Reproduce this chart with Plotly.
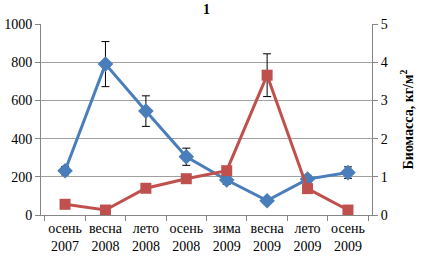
import plotly.graph_objects as go

categories = ["осень<br>2007", "весна<br>2008", "лето<br>2008", "осень<br>2008",
              "зима<br>2009", "весна<br>2009", "лето<br>2009", "осень<br>2009"]
blue_values = [232, 790, 544, 305, 183, 75, 188, 222]
blue_errors = [22, 118, 80, 45, 22, 0, 20, 30]
red_values = [0.28, 0.13, 0.70, 0.95, 1.16, 3.66, 0.69, 0.13]
red_errors = [0, 0, 0, 0, 0, 0.56, 0, 0]
left_ticks = [0, 200, 400, 600, 800, 1000]
right_ticks = [0, 1, 2, 3, 4, 5]

BLUE = "#4A7EBB"
RED = "#C0504D"
FONT = "Liberation Serif"

fig = go.Figure()
fig.add_trace(go.Scatter(
    x=categories, y=red_values, yaxis="y2", mode="lines+markers",
    line=dict(color=RED, width=3),
    marker=dict(symbol="square", size=11, color=RED),
    error_y=dict(type="data", array=red_errors, color="black", thickness=1, width=4),
    showlegend=False))
fig.add_trace(go.Scatter(
    x=categories, y=blue_values, mode="lines+markers",
    line=dict(color=BLUE, width=3),
    marker=dict(symbol="diamond", size=12, color=BLUE),
    error_y=dict(type="data", array=blue_errors, color="black", thickness=1, width=4),
    showlegend=False))

fig.update_layout(
    width=429, height=256,
    margin=dict(l=41, r=57, t=24, b=41),
    paper_bgcolor="white", plot_bgcolor="white",
    font=dict(family=FONT, size=14, color="black"),
    title=dict(text="<b>1</b>", x=0.5, xref="paper", xanchor="center",
               y=0.965, yanchor="middle",
               font=dict(family=FONT, size=14, color="black")),
    xaxis=dict(type="category", showline=True, linecolor="#868686", linewidth=1,
               ticks="outside", tickson="boundaries", ticklen=5, tickcolor="#868686",
               showgrid=False, tickangle=0, automargin=False,
               tickfont=dict(family=FONT, size=14)),
    yaxis=dict(range=[0, 1000], tickvals=left_ticks, showline=True, linecolor="#868686",
               ticks="outside", ticklen=5, tickcolor="#868686", automargin=False,
               showgrid=True, gridcolor="#A0A0A0", gridwidth=1, zeroline=False,
               tickfont=dict(family=FONT, size=14)),
    yaxis2=dict(range=[0, 5], tickvals=right_ticks, overlaying="y", side="right",
                showline=True, linecolor="#868686", ticks="outside", ticklen=5,
                tickcolor="#868686", showgrid=False, zeroline=False, automargin=True,
                tickfont=dict(family=FONT, size=14),
                title=dict(text="<b>Биомасса, кг/м<sup>2</sup></b>", standoff=16,
                           font=dict(family=FONT, size=14))),
)
fig.write_html("out.html", config={"displayModeBar": False},
               post_script="document.body.style.margin='0';")
